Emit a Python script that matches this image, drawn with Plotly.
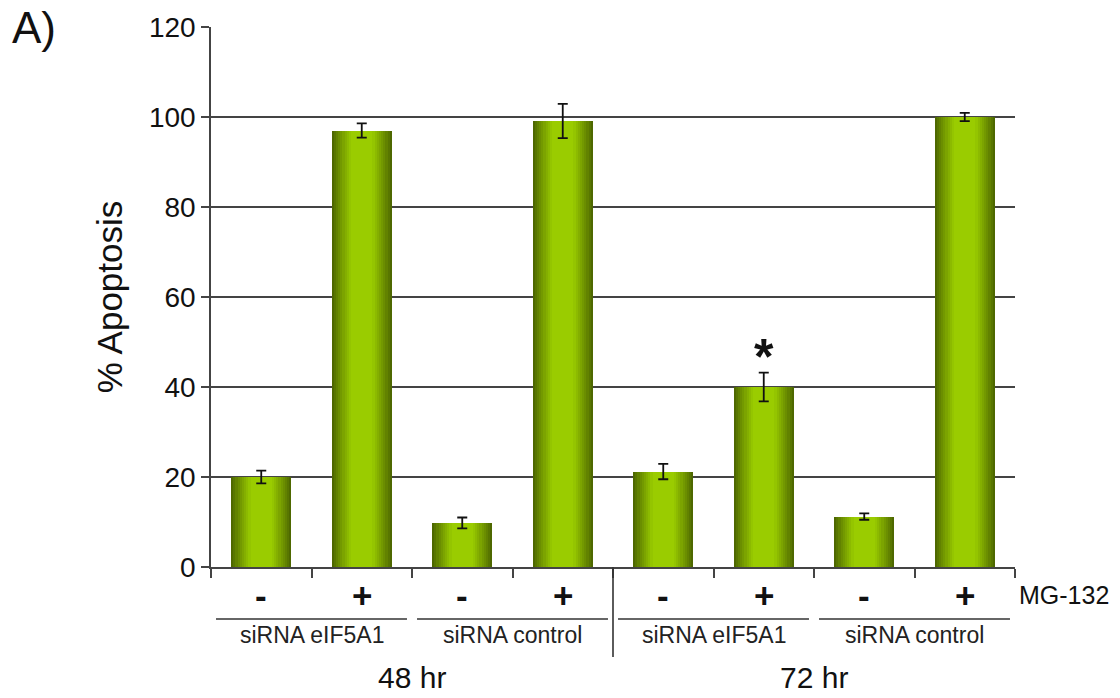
import plotly.graph_objects as go

# Apoptosis measurements (mean and error) for each condition
mg132 = ["-", "+", "-", "+", "-", "+", "-", "+"]
apoptosis = [20.0, 97.0, 9.8, 99.1, 21.2, 40.0, 11.2, 100.0]
errors = [1.4, 1.6, 1.2, 3.8, 1.7, 3.2, 0.7, 0.9]
sirna_groups = ["siRNA eIF5A1", "siRNA control", "siRNA eIF5A1", "siRNA control"]
time_points = ["48 hr", "72 hr"]
y_ticks = [0, 20, 40, 60, 80, 100, 120]
significant = [5]

FONT = "Liberation Sans, Arial, sans-serif"
xpos = list(range(len(apoptosis)))

fig = go.Figure()

# Cylinder-like shading: stacked, progressively narrower bars from dark edge to bright centre
edge = (78, 104, 0)
mid = (154, 204, 0)
n_layers = 14
bar_w = 0.6
for i in range(n_layers):
    t = i / (n_layers - 1)
    s = min(1.0, t * 1.5) ** 0.9
    col = tuple(int(edge[k] + (mid[k] - edge[k]) * s) for k in range(3))
    fig.add_trace(go.Bar(
        x=xpos, y=apoptosis,
        width=bar_w * (1 - 0.93 * t),
        marker=dict(color="rgb(%d,%d,%d)" % col, line=dict(width=0)),
        showlegend=False, hoverinfo="skip",
    ))

# Error bars on top of the bars
fig.add_trace(go.Scatter(
    x=xpos, y=apoptosis, mode="markers",
    marker=dict(size=1, color="rgba(0,0,0,0)"),
    error_y=dict(type="data", array=errors, color="#111111", thickness=1.8, width=5),
    showlegend=False,
))

annotations = []
# MG-132 +/- labels
for x, s in zip(xpos, mg132):
    annotations.append(dict(
        x=x, y=0, xref="x", yref="paper", yshift=-28, yanchor="middle",
        text="<b>%s</b>" % s, showarrow=False,
        font=dict(family=FONT, size=35, color="#111111"),
    ))
annotations.append(dict(
    x=1, y=0, xref="paper", yref="paper", xanchor="left", yanchor="middle",
    xshift=2, yshift=-28, text="MG-132", showarrow=False,
    font=dict(family=FONT, size=25, color="#111111"),
))

shapes = []
# siRNA group labels with underlines
for g, name in enumerate(sirna_groups):
    x0 = 2 * g - 0.5
    x1 = 2 * g + 1.5
    shapes.append(dict(
        type="line", xref="x", yref="paper", x0=x0 + 0.05, x1=x1 - 0.05,
        y0=-52 / 540, y1=-52 / 540, line=dict(color="#333333", width=1.6),
    ))
    annotations.append(dict(
        x=2 * g + 0.5, y=0, xref="x", yref="paper", yshift=-68, yanchor="middle",
        text=name, showarrow=False,
        font=dict(family=FONT, size=23, color="#222222"),
    ))

# Time point labels and separator
for k, name in enumerate(time_points):
    annotations.append(dict(
        x=4 * k + 1.5, y=0, xref="x", yref="paper", yshift=-110, yanchor="middle",
        text=name, showarrow=False,
        font=dict(family=FONT, size=30, color="#111111"),
    ))
shapes.append(dict(
    type="line", xref="x", yref="paper", x0=3.5, x1=3.5, y0=0, y1=-90 / 540,
    line=dict(color="#333333", width=1.6),
))

# Significance marker
for i in significant:
    annotations.append(dict(
        x=i, y=apoptosis[i] + errors[i], xref="x", yref="y", yanchor="bottom",
        yshift=-14, text="<b>*</b>", showarrow=False,
        font=dict(family=FONT, size=50, color="#111111"),
    ))

# Panel label
annotations.append(dict(
    x=(10 - 211) / 804, y=(567 - 27) / 540, xref="paper", yref="paper",
    xanchor="left", yanchor="middle", text="A)", showarrow=False,
    font=dict(family=FONT, size=44, color="#111111"),
))

fig.update_layout(
    width=1120, height=698,
    margin=dict(l=211, r=105, t=27, b=131),
    paper_bgcolor="white", plot_bgcolor="white",
    barmode="overlay", bargap=0,
    font=dict(family=FONT, color="#111111"),
    annotations=annotations, shapes=shapes,
    xaxis=dict(
        range=[-0.5, 7.5], tickmode="array",
        tickvals=[v - 0.5 for v in range(len(apoptosis) + 1)],
        ticks="outside", ticklen=9, tickwidth=1.6, tickcolor="#444444",
        showticklabels=False, showgrid=False, zeroline=False,
        showline=True, linecolor="#444444", linewidth=1.6,
    ),
    yaxis=dict(
        range=[0, 120], tickmode="array", tickvals=y_ticks,
        ticks="outside", ticklen=8, tickwidth=1.6, tickcolor="#444444",
        tickfont=dict(family=FONT, size=28, color="#111111"),
        showgrid=True, gridcolor="#444444", gridwidth=1.6,
        zeroline=False, showline=True, linecolor="#444444", linewidth=1.6,
        title=dict(text="% Apoptosis", font=dict(family=FONT, size=35, color="#111111"),
                   standoff=16),
    ),
)

fig.write_html("out.html")
